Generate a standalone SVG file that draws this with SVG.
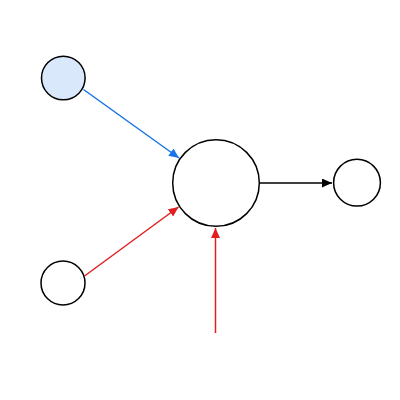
<svg xmlns="http://www.w3.org/2000/svg" width="400" height="400" viewBox="0 0 400 400">
<style>
.node{fill:#fff;stroke:#000;stroke-width:1.5}
.edge{fill:none;stroke-width:1.5}
</style>
<defs>
<marker id="ab" viewBox="0 0 10 9" refX="10" refY="4.5" markerWidth="10" markerHeight="9" markerUnits="userSpaceOnUse" orient="auto"><path d="M0,0L10,4.5L0,9z" fill="#1874e8"/></marker>
<marker id="ar" viewBox="0 0 10 9" refX="10" refY="4.5" markerWidth="10" markerHeight="9" markerUnits="userSpaceOnUse" orient="auto"><path d="M0,0L10,4.5L0,9z" fill="#e02020"/></marker>
<marker id="ak" viewBox="0 0 10 9" refX="10" refY="4.5" markerWidth="10" markerHeight="9" markerUnits="userSpaceOnUse" orient="auto"><path d="M0,0L10,4.5L0,9z" fill="#000"/></marker>
</defs>
<rect width="400" height="400" fill="#fff"/>
<g id="edges">
<line class="edge" x1="83.5" y1="89.5" x2="179" y2="158" stroke="#1874e8" marker-end="url(#ab)"/>
<line class="edge" x1="84.5" y1="276" x2="178.5" y2="207" stroke="#e02020" marker-end="url(#ar)"/>
<line class="edge" x1="215.5" y1="333" x2="215.5" y2="228" stroke="#e02020" marker-end="url(#ar)"/>
<line class="edge" x1="259.5" y1="183" x2="332" y2="183" stroke="#000" marker-end="url(#ak)"/>
</g>
<g id="n1"><circle class="node" cx="63.3" cy="78" r="21.8" style="fill:#dae8fc"/></g>
<g id="n2"><circle class="node" cx="216" cy="183" r="43.3"/></g>
<g id="n3"><circle class="node" cx="357" cy="182.7" r="23.4"/></g>
<g id="n4"><circle class="node" cx="63" cy="283" r="22"/></g>
</svg>
